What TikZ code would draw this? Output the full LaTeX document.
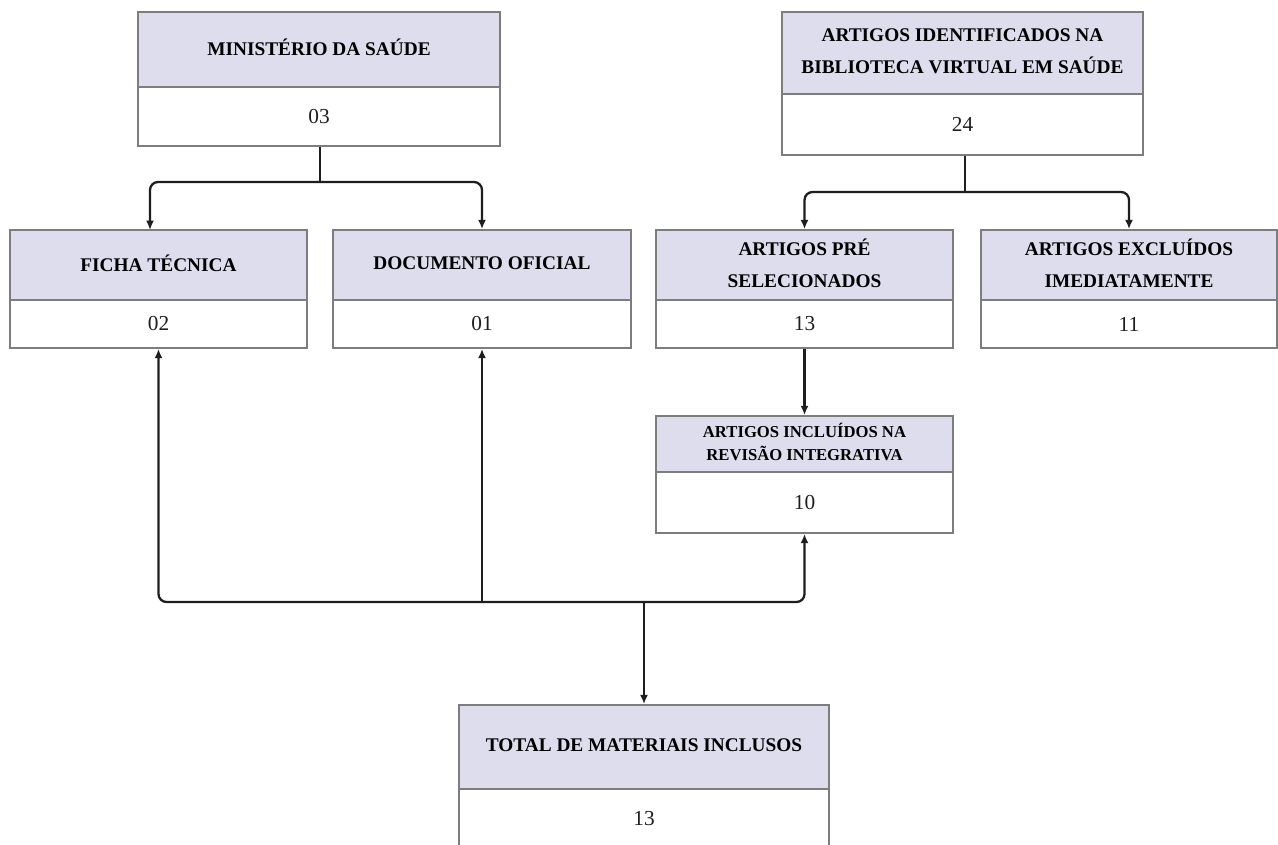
\documentclass[tikz,border=0pt]{standalone}
\usepackage{fontspec}
\setmainfont{Liberation Serif}
\usetikzlibrary{fit,arrows.meta,calc}
\definecolor{hdrfill}{RGB}{221,221,238}
\definecolor{edgecol}{RGB}{125,125,125}
\definecolor{ink}{RGB}{30,30,30}
\tikzset{
  outline/.style={draw=edgecol, line width=1.3pt, inner sep=0pt},
  hdrbg/.style={fill=hdrfill},
  conn/.style={draw=ink, line width=1.7pt, rounded corners=6pt},
  arr/.style={conn, -{Latex[length=7pt,width=6pt]}},
  htext/.style={font=\fontsize{14.5}{24}\selectfont\bfseries, align=center, text=black},
  hsmall/.style={font=\fontsize{12.5}{17}\selectfont\bfseries, align=center, text=black},
  vtext/.style={font=\fontsize{16}{18}\selectfont, text=ink}
}
% #1 name, #2 x1, #3 y1, #4 x2, #5 ysplit, #6 y2, #7 header style, #8 header, #9 value
\newcommand\flowbox[9]{%
  \fill[hdrbg] (#2,#3) rectangle (#4,#5);
  \node[outline, fit={(#2,#3) (#4,#6)}] (#1) {};
  \draw[edgecol, line width=1.3pt] (#2,#5) -- (#4,#5);
  \node[#7] (#1-h) at ({(#2+#4)/2},{(#3+#5)/2-2}) {#8};
  \node[vtext] (#1-v) at ({(#2+#4)/2},{(#5+#6)/2}) {#9};
}
\begin{document}
\begin{tikzpicture}[x=0.75pt,y=-0.75pt]
\useasboundingbox (0,0) rectangle (1278,845);
\begin{scope}
\clip (0,0) rectangle (1278,845);
\flowbox{ms}{138}{12}{500}{87}{146}{htext}{MINISTÉRIO DA SAÚDE}{03}
\flowbox{bvs}{782}{12}{1143}{94}{155}{htext}{ARTIGOS IDENTIFICADOS NA\\BIBLIOTECA VIRTUAL EM SAÚDE}{24}
\flowbox{ficha}{10}{230}{307}{300}{348}{htext}{FICHA TÉCNICA}{02}
\flowbox{doc}{333}{230}{631}{300}{348}{htext}{DOCUMENTO OFICIAL}{01}
\flowbox{pre}{656}{230}{953}{300}{348}{htext}{ARTIGOS PRÉ\\SELECIONADOS}{13}
\flowbox{exc}{981}{230}{1277}{300}{348}{htext}{ARTIGOS EXCLUÍDOS\\IMEDIATAMENTE}{11}
\flowbox{inc}{656}{416}{953}{472}{533}{hsmall}{ARTIGOS INCLUÍDOS NA\\REVISÃO INTEGRATIVA}{10}
\flowbox{tot}{459}{705}{829}{789}{848}{htext}{TOTAL DE MATERIAIS INCLUSOS}{13}
\end{scope}

% Ministério split
\coordinate (msj) at (320,182);
\coordinate (fichaTop) at (150,230);
\draw[conn] (ms.south -| msj) -- (msj);
\draw[arr] (msj) -| (fichaTop);
\draw[arr] (msj) -| (doc.north);

% BVS split
\coordinate (bvsj) at (965,192);
\draw[conn] (bvs.south -| bvsj) -- (bvsj);
\draw[arr] (bvsj) -| (pre.north);
\draw[arr] (bvsj) -| (exc.north);

% pre -> inc
\draw[arr] (pre.south) -- (inc.north);

% bottom merge
\coordinate (hub) at (644,602);
\draw[arr] (hub) -| (ficha.south);
\draw[arr] (hub -| doc.south) -- (doc.south);
\draw[arr] (hub) -| (inc.south);
\draw[arr] (hub) -- (tot.north);
\end{tikzpicture}
\end{document}
